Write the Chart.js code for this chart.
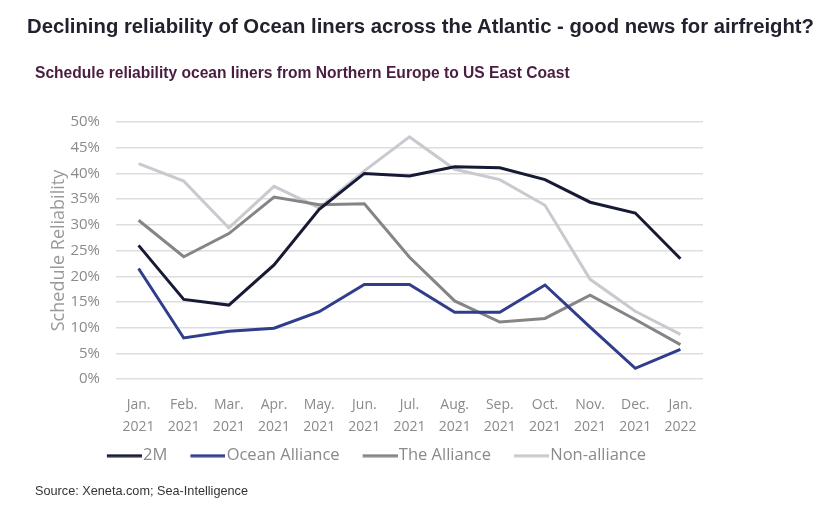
<!DOCTYPE html>
<html>
<head>
<meta charset="utf-8">
<script src="https://cdn.jsdelivr.net/npm/chart.js@4"></script>
<style>
  html, body { margin: 0; padding: 0; background: #fff; }
  #wrap { position: relative; width: 839px; height: 513px; overflow: hidden; }
  #chart { position: absolute; left: 0; top: 0; }
  .t { position: absolute; font-family: "Liberation Sans", Arial, sans-serif; white-space: nowrap; }
  #title { left: 27px; top: 15px; font-size: 20.3px; font-weight: bold; color: #22222e; }
  #subtitle { left: 35px; top: 64px; font-size: 15.6px; font-weight: bold; color: #4a1d40; }
  #source { left: 35px; top: 484px; font-size: 12.7px; color: #333; }
</style>
</head>
<body>
<div id="wrap">
  <canvas id="chart" width="839" height="513"></canvas>
  <div class="t" id="title">Declining reliability of Ocean liners across the Atlantic - good news for airfreight?</div>
  <div class="t" id="subtitle">Schedule reliability ocean liners from Northern Europe to US East Coast</div>
  <div class="t" id="source">Source: Xeneta.com; Sea-Intelligence</div>
</div>
<script>
const categories = [
  ["Jan.", "2021"], ["Feb.", "2021"], ["Mar.", "2021"], ["Apr.", "2021"], ["May.", "2021"],
  ["Jun.", "2021"], ["Jul.", "2021"], ["Aug.", "2021"], ["Sep.", "2021"], ["Oct.", "2021"],
  ["Nov.", "2021"], ["Dec.", "2021"], ["Jan.", "2022"]
];
const seriesNames = ["2M", "Ocean Alliance", "The Alliance", "Non-alliance"];
const twoM          = [26.0, 15.5, 14.4, 22.2, 33.0, 40.0, 39.5, 41.3, 41.1, 38.8, 34.4, 32.3, 23.4];
const oceanAlliance = [21.5,  8.0,  9.3,  9.9, 13.1, 18.4, 18.4, 13.0, 13.0, 18.3, 10.1,  2.1,  5.8];
const theAlliance   = [30.9, 23.8, 28.3, 35.4, 33.9, 34.1, 23.7, 15.2, 11.1, 11.8, 16.3, 11.6,  6.7];
const nonAlliance   = [41.9, 38.5, 29.4, 37.5, 33.3, 40.5, 47.1, 40.8, 38.8, 33.8, 19.4, 13.2,  8.7];
const yTicks = [0, 5, 10, 15, 20, 25, 30, 35, 40, 45, 50];

const colors = ["#171a34", "#2f3d8c", "#858585", "#c9cacf"];
const values = [twoM, oceanAlliance, theAlliance, nonAlliance];

const fam = "'Open Sans', sans-serif";

// legend swatch: a 35px line, drawn as a small canvas image
function swatch(color) {
  const c = document.createElement("canvas");
  c.width = 44; c.height = 4;
  const g = c.getContext("2d");
  g.fillStyle = color;
  g.fillRect(9, 0.5, 35, 3);
  return c;
}

const legendShift = {
  id: "legendShift",
  afterLayout(chart) {
    const lg = chart.legend;
    if (lg) { lg.top -= 26; lg.bottom -= 26; }
  }
};

new Chart(document.getElementById("chart"), {
  type: "line",
  data: {
    labels: categories,
    datasets: seriesNames.map((n, i) => ({
      label: n,
      data: values[i],
      borderColor: colors[i],
      backgroundColor: colors[i],
      borderWidth: 3,
      pointRadius: 0,
      pointStyle: swatch(colors[i]),
      tension: 0
    }))
  },
  options: {
    responsive: false,
    animation: false,
    layout: { padding: { left: 48, right: 136, top: 122, bottom: 13 } },
    plugins: {
      title: { display: false },
      tooltip: { enabled: false },
      legend: {
        position: "bottom",
        align: "center",
        labels: {
          usePointStyle: true,
          pointStyleWidth: 30,
          boxHeight: 3,
          padding: 21,
          color: "#8a8a8a",
          font: { family: fam, size: 16.5 }
        }
      }
    },
    scales: {
      x: {
        offset: true,
        grid: { display: false, drawTicks: false },
        border: { display: false },
        ticks: {
          color: "#8a8a8a",
          font: { family: fam, size: 14, lineHeight: 1.55 },
          padding: 15,
          maxRotation: 0,
          autoSkip: false
        }
      },
      y: {
        min: 0,
        max: 50,
        afterBuildTicks: (s) => { s.ticks = yTicks.map(v => ({ value: v })); },
        afterFit: (axis) => { axis.width = 68; },
        grid: { color: "#dedede", lineWidth: 1.5, drawTicks: false },
        border: { display: false },
        ticks: {
          color: "#8a8a8a",
          font: { family: fam, size: 15 },
          padding: 16,
          callback: (v) => v + "%"
        },
        title: {
          display: true,
          text: "Schedule Reliability",
          color: "#9a9a9a",
          font: { family: fam, size: 18 },
          padding: { top: 0, bottom: 4 }
        }
      }
    }
  },
  plugins: [legendShift]
});
</script>
</body>
</html>
